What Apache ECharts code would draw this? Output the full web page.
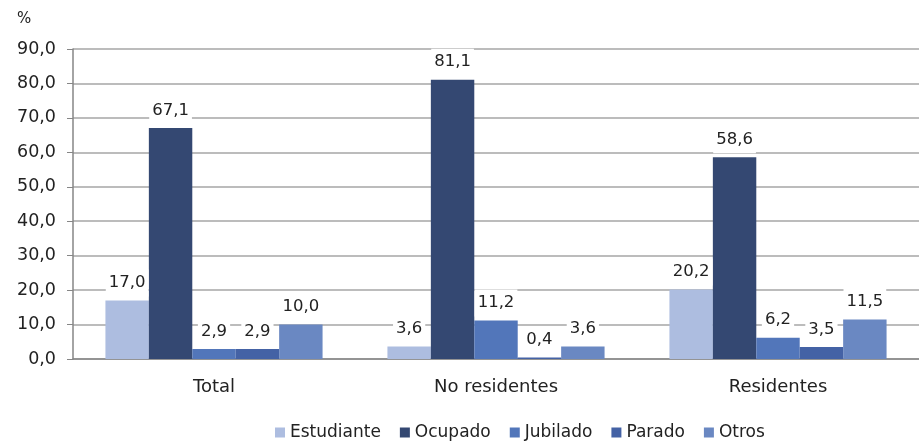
<!DOCTYPE html>
<html lang="es">
<head>
<meta charset="UTF-8">
<title>Chart</title>
<style>
  html, body { margin: 0; padding: 0; background: #fff; }
  #main { width: 919px; height: 446px; }
</style>
</head>
<body>
<div id="main"></div>
<script src="https://cdn.jsdelivr.net/npm/echarts@6/dist/echarts.min.js"></script>
<script>
const categories = ['Total', 'No residentes', 'Residentes']
const estudiante = [17.0, 3.6, 20.2]
const ocupado = [67.1, 81.1, 58.6]
const jubilado = [2.9, 11.2, 6.2]
const parado = [2.9, 0.4, 3.5]
const otros = [10.0, 3.6, 11.5]
const seriesNames = ['Estudiante', 'Ocupado', 'Jubilado', 'Parado', 'Otros']
const colors = ['#adbde0', '#344872', '#5276ba', '#4462a5', '#6a88c2']

const font = 'DejaVu Sans'
const chart = echarts.init(document.getElementById('main'))

const fmt = v => v.toFixed(1).replace('.', ',')

const series = [estudiante, ocupado, jubilado, parado, otros].map((d, i) => ({
  name: seriesNames[i],
  type: 'bar',
  data: d,
  barGap: '0%',
  barCategoryGap: '23%',
  itemStyle: { color: colors[i] },
  label: {
    show: true,
    position: 'top',
    distance: 4,
    formatter: p => fmt(p.value),
    color: '#222',
    fontFamily: font,
    fontSize: 16.5,
    backgroundColor: '#fff',
    padding: [5, 3]
  }
}))

chart.setOption({
  animation: false,
  textStyle: { fontFamily: font },
  title: {
    text: '%',
    left: 12,
    top: 7,
    textStyle: { color: '#222', fontSize: 15, fontWeight: 'normal', fontFamily: font }
  },
  grid: { left: 73, right: 0, top: 49, bottom: 87 },
  legend: {
    bottom: 0,
    left: 270,
    itemWidth: 10,
    itemHeight: 10,
    itemGap: 19,
    icon: 'rect',
    textStyle: { fontFamily: font, fontSize: 17, color: '#222' },
    data: seriesNames
  },
  xAxis: {
    type: 'category',
    data: categories,
    axisLine: { lineStyle: { color: '#868686', width: 1.5 } },
    axisTick: { show: false },
    axisLabel: { color: '#222', fontSize: 18, fontFamily: font, margin: 19 }
  },
  yAxis: {
    type: 'value',
    min: 0,
    max: 90,
    interval: 10,
    axisLine: { show: true, lineStyle: { color: '#868686', width: 1.5 } },
    axisTick: { show: true, length: 6, lineStyle: { color: '#868686' } },
    axisLabel: { color: '#222', fontSize: 17.5, fontFamily: font, margin: 17, formatter: v => fmt(v) },
    splitLine: { lineStyle: { color: '#a6a6a6', width: 1.5 } }
  },
  series
})
</script>
</body>
</html>
